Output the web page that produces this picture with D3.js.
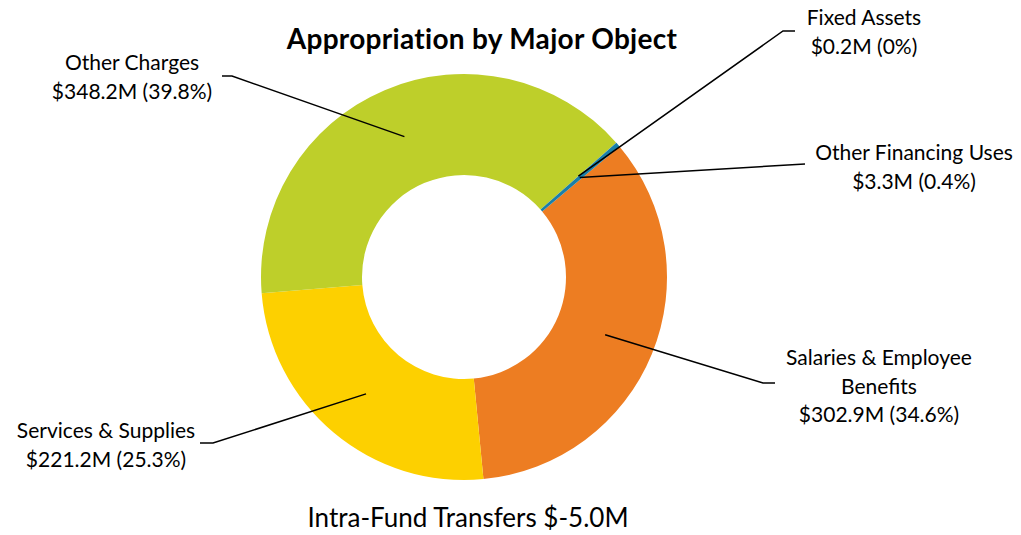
<!DOCTYPE html>
<html>
<head>
<meta charset="utf-8">
<script src="https://cdn.jsdelivr.net/npm/d3@7"></script>
<style>
  html, body { margin: 0; padding: 0; background: #fff; }
  svg text { font-family: Lato, "Open Sans", sans-serif; fill: #000; }
</style>
</head>
<body>
<svg id="chart" width="1021" height="535"></svg>
<script>
// Appropriation by major object ($M), in drawing order
const categories = ["Salaries & Employee Benefits", "Services & Supplies", "Other Charges", "Fixed Assets", "Other Financing Uses"];
const amounts = [302.9, 221.2, 348.2, 0.2, 3.3];
const percentLabels = ["34.6%", "25.3%", "39.8%", "0%", "0.4%"];
const colors = ["#ED7D22", "#FDD000", "#BECF2A", "#A5A5A5", "#1A7FA8"];
const titleText = "Appropriation by Major Object";
const footnoteText = "Intra-Fund Transfers $-5.0M";

// Label text lines and where each callout sits
const labelLines = [
  ["Salaries & Employee", "Benefits", "$302.9M (34.6%)"],
  ["Services & Supplies", "$221.2M (25.3%)"],
  ["Other Charges", "$348.2M (39.8%)"],
  ["Fixed Assets", "$0.2M (0%)"],
  ["Other Financing Uses", "$3.3M (0.4%)"]
];
const calloutLayout = [
  { elbow: [763, 383], end: [775, 383], tx: 879, ty: 365 },
  { elbow: [213, 443], end: [200, 443], tx: 106, ty: 438 },
  { elbow: [232, 76],  end: [222, 76],  tx: 132, ty: 70 },
  { elbow: [783, 31],  end: [795, 31],  tx: 864, ty: 25 },
  { elbow: [805, 164], end: [805, 164], tx: 914, ty: 160 }
];

const svg = d3.select("#chart");
const cx = 464, cy = 277, outerR = 203, innerR = 102;
const lineGap = 28.5;

const pie = d3.pie().sort(null).value(d => d)
  .startAngle(50 * Math.PI / 180)
  .endAngle(410 * Math.PI / 180);
const arcs = pie(amounts);

const arc = d3.arc().innerRadius(innerR).outerRadius(outerR);

const g = svg.append("g").attr("transform", `translate(${cx},${cy})`);
g.selectAll("path.slice")
  .data(arcs)
  .join("path")
  .attr("class", "slice")
  .attr("d", arc)
  .attr("fill", (d, i) => colors[i]);

// Leader lines from each slice centroid out to its label
const line = d3.line();
svg.selectAll("path.leader")
  .data(arcs)
  .join("path")
  .attr("class", "leader")
  .attr("fill", "none")
  .attr("stroke", "#000")
  .attr("stroke-width", 1.5)
  .attr("d", (d, i) => {
    const c = arc.centroid(d);
    const L = calloutLayout[i];
    return line([[cx + c[0], cy + c[1]], L.elbow, L.end]);
  });

// Callout labels
labelLines.forEach((lines, i) => {
  const L = calloutLayout[i];
  const t = svg.append("text")
    .attr("text-anchor", "middle")
    .attr("font-size", 21);
  lines.forEach((s, k) => {
    t.append("tspan").attr("x", L.tx).attr("y", L.ty + k * lineGap).text(s);
  });
});

svg.append("text")
  .attr("x", 482).attr("y", 49)
  .attr("text-anchor", "middle")
  .attr("font-size", 28)
  .attr("letter-spacing", 0.3)
  .attr("font-weight", "bold")
  .text(titleText);

svg.append("text")
  .attr("x", 468).attr("y", 527)
  .attr("text-anchor", "middle")
  .attr("font-size", 26)
  .text(footnoteText);
</script>
</body>
</html>
